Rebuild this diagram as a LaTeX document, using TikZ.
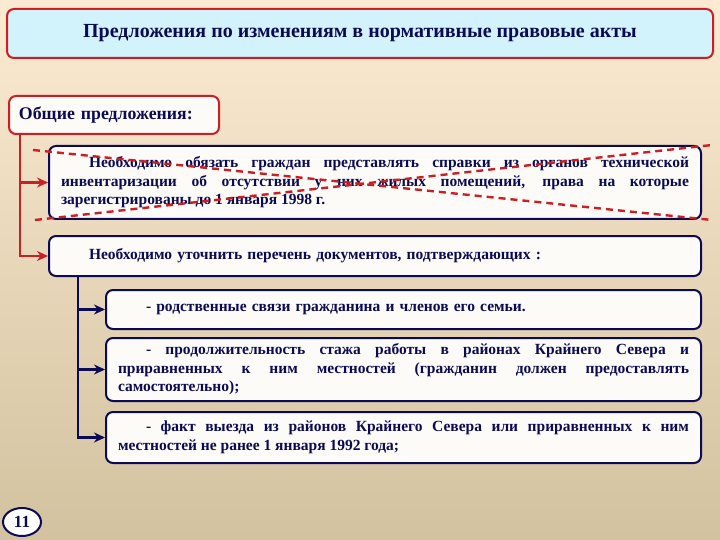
\documentclass[tikz,border=0pt]{standalone}
\usepackage{fontspec}
\setmainfont{Liberation Serif}
\usepackage{tikz}
\usetikzlibrary{shapes,arrows.meta,positioning,calc}

\definecolor{bgtop}{HTML}{FCEBD2}
\definecolor{bgbot}{HTML}{D2C29F}
\definecolor{titleblue}{HTML}{D2F2FC}
\definecolor{framered}{HTML}{CC1F24}
\definecolor{navy}{HTML}{0B0B55}
\definecolor{boxwhite}{HTML}{FCFBF7}

\begin{document}
\begin{tikzpicture}[
    x=1pt, y=-1pt,
    font=\bfseries\fontsize{15.5}{18.5}\selectfont,
    text=navy,
    titlebox/.style={rectangle, draw=framered, fill=titleblue, line width=2pt, rounded corners=7pt, minimum width=706pt, minimum height=49pt, anchor=north west},
    headbox/.style={rectangle, draw=framered, fill=boxwhite, line width=2pt, rounded corners=7pt, minimum width=210pt, minimum height=38pt, anchor=north west, inner xsep=10pt, text width=190pt},
    itembox/.style={rectangle, draw=navy, fill=boxwhite, line width=2pt, rounded corners=7pt, anchor=north west, inner xsep=12pt, align=justify},
    redarrow/.style={draw=framered, line width=2.2pt, -{Stealth[length=11pt,width=10pt]}},
    navyarrow/.style={draw=navy, line width=2.2pt, -{Stealth[length=11pt,width=10pt]}},
    crossout/.style={draw=framered, line width=2.4pt, dash pattern=on 7pt off 5pt}
]
    \shade[top color=bgtop, bottom color=bgbot] (0,0) rectangle (720,540);
    \useasboundingbox (0,0) rectangle (720,540);

    \node[titlebox, font=\bfseries\fontsize{20}{23}\selectfont] (title) at (6,8)
        {Предложения по изменениям в нормативные правовые акты};

    \node[headbox, font=\bfseries\fontsize{17.8}{20}\selectfont] (general) at (8,95) {Общие предложения:};

    \node[itembox, minimum height=73pt, text width=628pt] (obligate) at (48,145)
        {\hspace*{28pt}Необходимо обязать граждан представлять справки из органов технической\linebreak
         инвентаризации об отсутствии у них жилых помещений, права на которые\linebreak
         зарегистрированы до 1 января 1998 г.};
    \node[itembox, minimum height=40pt, text width=628pt, align=left] (specify) at (48,235)
        {\hspace*{28pt}Необходимо уточнить перечень документов, подтверждающих :};

    \node[itembox, minimum height=39pt, text width=571pt, align=left] (kinship) at (105,289)
        {\hspace*{28pt}- родственные связи гражданина и членов его семьи.};
    \node[itembox, minimum height=63pt, text width=571pt] (service) at (105,337)
        {\hspace*{28pt}- продолжительность стажа работы в районах Крайнего Севера и\linebreak
         приравненных к ним местностей (гражданин должен предоставлять\linebreak
         самостоятельно);};
    \node[itembox, minimum height=51pt, text width=571pt] (departure) at (105,411)
        {\hspace*{28pt}- факт выезда из районов Крайнего Севера или приравненных к ним\linebreak
         местностей не ранее 1 января 1992 года;};

    % red crossing of the first proposal
    \draw[crossout] ($(obligate.north west)+(-15,5)$) -- ($(obligate.south east)+(10,0)$);
    \draw[crossout] ($(obligate.south west)+(-13,0)$) -- ($(obligate.north east)+(10,0)$);

    % connectors
    \coordinate (redtrunk) at ($(general.south west)+(12,0)$);
    \draw[redarrow] (redtrunk) |- (obligate.west);
    \draw[redarrow] (redtrunk) |- (specify.west);

    \coordinate (navytrunk) at ($(specify.south west)+(30,0)$);
    \draw[navyarrow] (navytrunk) |- (kinship.west);
    \draw[navyarrow] (navytrunk) |- (service.west);
    \draw[navyarrow] (navytrunk) |- (departure.west);

    \node[ellipse, draw=navy, fill=white, line width=2pt, minimum width=38pt, minimum height=28pt, inner sep=0pt,
          font=\bfseries\fontsize{17}{19}\selectfont] (pagenum) at (22,522) {11};
\end{tikzpicture}
\end{document}
